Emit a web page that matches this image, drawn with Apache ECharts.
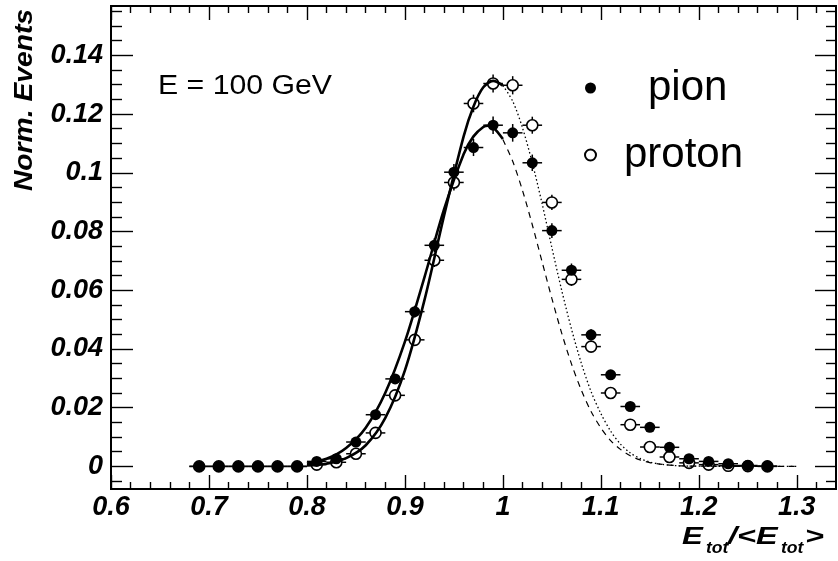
<!DOCTYPE html>
<html>
<head>
<meta charset="utf-8">
<script src="https://cdn.jsdelivr.net/npm/echarts@6/dist/echarts.min.js"></script>
<style>
html,body{margin:0;padding:0;background:#fff;}
#chart{width:838px;height:561px;}
</style>
</head>
<body>
<div id="chart"></div>
<script>
// ---- data ----
const binCenters = [0.69,0.71,0.73,0.75,0.77,0.79,0.81,0.83,0.85,0.87,0.89,0.91,0.93,0.95,0.97,0.99,1.01,1.03,1.05,1.07,1.09,1.11,1.13,1.15,1.17,1.19,1.21,1.23,1.25,1.27];
const pionValues = [0,0,0,0,0,0,0.0017,0.0026,0.0083,0.0176,0.0298,0.0527,0.0753,0.1002,0.1086,0.1162,0.1136,0.1034,0.0803,0.0668,0.0448,0.0312,0.0204,0.0133,0.0065,0.0026,0.0017,0.0009,0.0003,0.0001];
const pionErrors = [0,0,0,0,0,0,0.0004,0.0005,0.0008,0.0012,0.0015,0.0020,0.0024,0.0028,0.0029,0.0030,0.0030,0.0028,0.0025,0.0023,0.0019,0.0016,0.0013,0.0010,0.0007,0.0005,0.0004,0.0003,0.0002,0];
const protonValues = [0,0,0,0,0,0,0.0006,0.0014,0.0043,0.0114,0.0242,0.0431,0.0702,0.0967,0.1236,0.1304,0.1298,0.1162,0.0899,0.0637,0.0408,0.0250,0.0142,0.0066,0.0032,0.0012,0.0006,0.0002,0.0001,0];
const protonErrors = [0,0,0,0,0,0,0.0003,0.0004,0.0006,0.0010,0.0014,0.0018,0.0023,0.0027,0.0030,0.0031,0.0031,0.0029,0.0026,0.0022,0.0018,0.0014,0.0010,0.0007,0.0005,0.0003,0.0002,0.0001,0.0001,0];
const binHalfWidth = 0.01;

const pionFitX = [0.80,0.82,0.84,0.86,0.88,0.90,0.92,0.94,0.96,0.97,0.98,0.985,0.99,1.00];
const pionFitY = [0.0010,0.0026,0.0063,0.0132,0.0251,0.0425,0.0645,0.0876,0.1064,0.1124,0.1156,0.1160,0.1155,0.1115];
const pionTailX = [1.00,1.01,1.02,1.03,1.04,1.05,1.06,1.07,1.08,1.09,1.10,1.11,1.12,1.13,1.14,1.15,1.16,1.18,1.20,1.25,1.30];
const pionTailY = [0.1113,0.1039,0.0940,0.0823,0.0697,0.0572,0.0454,0.0349,0.0260,0.0187,0.0131,0.0088,0.0058,0.0036,0.0022,0.0013,0.0008,0.0002,0.0001,0,0];
const protonFitX = [0.80,0.82,0.84,0.86,0.88,0.90,0.92,0.94,0.96,0.97,0.98,0.99,1.00];
const protonFitY = [0.0003,0.0009,0.0028,0.0072,0.0165,0.0327,0.0567,0.0855,0.1125,0.1226,0.1291,0.1313,0.1297];
const protonTailX = [1.00,1.01,1.02,1.03,1.04,1.05,1.06,1.07,1.08,1.09,1.10,1.11,1.12,1.13,1.14,1.15,1.16,1.18,1.20,1.25,1.30];
const protonTailY = [0.1297,0.1244,0.1153,0.1034,0.0895,0.0745,0.0600,0.0468,0.0352,0.0255,0.0180,0.0120,0.0076,0.0046,0.0027,0.0015,0.0008,0.0002,0.0001,0,0];

const xMajorTicks = [0.6,0.7,0.8,0.9,1.0,1.1,1.2,1.3];
const xTickLabels = ['0.6','0.7','0.8','0.9','1','1.1','1.2','1.3'];
const xMinorTicks = [0.62,0.64,0.66,0.68,0.72,0.74,0.76,0.78,0.82,0.84,0.86,0.88,0.92,0.94,0.96,0.98,1.02,1.04,1.06,1.08,1.12,1.14,1.16,1.18,1.22,1.24,1.26,1.28,1.32];
const yMajorTicks = [0,0.02,0.04,0.06,0.08,0.10,0.12,0.14];
const yTickLabels = ['0','0.02','0.04','0.06','0.08','0.1','0.12','0.14'];
const yMinorTicks = [-0.005,0.005,0.01,0.015,0.025,0.03,0.035,0.045,0.05,0.055,0.065,0.07,0.075,0.085,0.09,0.095,0.105,0.11,0.115,0.125,0.13,0.135,0.145,0.15,0.155];
const xRange = [0.6, 1.34];
const yRange = [-0.0077, 0.1568];

// ---- chart ----
const FONT = '"Liberation Sans", Arial, Helvetica, sans-serif';
const chart = echarts.init(document.getElementById('chart'), null, {renderer:'canvas'});

function pick(ticks, labels, v){
  const i = ticks.findIndex(t => Math.abs(t - v) < 1e-9);
  return i >= 0 ? labels[i] : '';
}
function makeX(pos, values, len, withLabel){
  return {
    type:'value', min:xRange[0], max:xRange[1], position:pos,
    axisLine:{show:true, onZero:false, lineStyle:{color:'#000', width:2}},
    axisTick:{show:true, inside:true, length:len, customValues:values, lineStyle:{color:'#000', width:1.4}},
    axisLabel:{show:withLabel, customValues:values, margin:5,
      formatter:(v)=>pick(xMajorTicks, xTickLabels, v),
      fontFamily:FONT, fontSize:27, fontWeight:'bold', fontStyle:'italic', color:'#000'},
    splitLine:{show:false}, minorTick:{show:false}
  };
}
function makeY(pos, values, len, withLabel){
  return {
    type:'value', min:yRange[0], max:yRange[1], position:pos,
    axisLine:{show:true, onZero:false, lineStyle:{color:'#000', width:2}},
    axisTick:{show:true, inside:true, length:len, customValues:values, lineStyle:{color:'#000', width:1.4}},
    axisLabel:{show:withLabel, customValues:values, margin:8,
      formatter:(v)=>pick(yMajorTicks, yTickLabels, v),
      fontFamily:FONT, fontSize:27, fontWeight:'bold', fontStyle:'italic', color:'#000'},
    splitLine:{show:false}, minorTick:{show:false}
  };
}

function errData(vals, errs){
  return binCenters.map((x,i)=>[x, vals[i], errs[i]]);
}
function errRender(params, api){
  const x = api.value(0), y = api.value(1), e = api.value(2);
  const l = api.coord([x - binHalfWidth, y]);
  const r = api.coord([x + binHalfWidth, y]);
  const t = api.coord([x, y + e]);
  const b = api.coord([x, y - e]);
  const st = {stroke:'#000', lineWidth:1.5};
  return {type:'group', children:[
    {type:'line', shape:{x1:l[0], y1:l[1], x2:r[0], y2:r[1]}, style:st},
    {type:'line', shape:{x1:t[0], y1:t[1], x2:b[0], y2:b[1]}, style:st}
  ]};
}
function pairs(xs, ys){ return xs.map((x,i)=>[x, ys[i]]); }

const titleStyle = {fontFamily:FONT, fontWeight:'bold', fontStyle:'italic', fill:'#000', align:'left', verticalAlign:'middle'};

const option = {
  animation:false,
  backgroundColor:'#fff',
  grid:{left:111, right:2, top:6, bottom:72, containLabel:false},
  xAxis:[
    makeX('bottom', xMajorTicks, 14, true),
    makeX('bottom', xMinorTicks, 7, false),
    makeX('top', xMajorTicks, 14, false),
    makeX('top', xMinorTicks, 7, false)
  ],
  yAxis:[
    makeY('left', yMajorTicks, 22, true),
    makeY('left', yMinorTicks, 11, false),
    makeY('right', yMajorTicks, 21, false),
    makeY('right', yMinorTicks, 10, false)
  ],
  legend:{
    show:true, orient:'vertical', left:584, top:65, padding:0,
    itemWidth:11, itemHeight:11, itemGap:21, selectedMode:false,
    data:['pion','proton'],
    itemStyle:{opacity:1},
    formatter:(name)=>'{'+name+'|'+name+'}',
    textStyle:{fontFamily:FONT, fontSize:42, color:'#000', lineHeight:46,
      rich:{
        pion:{fontFamily:FONT, fontSize:42, lineHeight:46, color:'#000', padding:[0,0,0,47]},
        proton:{fontFamily:FONT, fontSize:42, lineHeight:46, color:'#000', padding:[0,0,0,23]}
      }}
  },
  graphic:[
    {type:'text', x:158, y:87, scaleX:1.12, z:100,
      style:{text:'E = 100 GeV', fontFamily:FONT, fontSize:27, fill:'#000', align:'left', verticalAlign:'middle'}},
    {type:'text', x:25, y:100, rotation:Math.PI/2, scaleX:1.13, z:100,
      style:{text:'Norm. Events', fontFamily:FONT, fontSize:25, fontWeight:'bold', fontStyle:'italic', fill:'#000', align:'center', verticalAlign:'middle'}},
    {type:'text', x:682, y:537, scaleX:1.3, z:100, style:Object.assign({text:'E', fontSize:24}, titleStyle)},
    {type:'text', x:706, y:549, scaleX:1.1, z:100, style:Object.assign({text:'tot', fontSize:16}, titleStyle)},
    {type:'text', x:728, y:537, scaleX:1.35, z:100, style:Object.assign({text:'/<E', fontSize:24}, titleStyle)},
    {type:'text', x:781, y:549, scaleX:1.1, z:100, style:Object.assign({text:'tot', fontSize:16}, titleStyle)},
    {type:'text', x:805, y:537, scaleX:1.35, z:100, style:Object.assign({text:'>', fontSize:24}, titleStyle)}
  ],
  series:[
    {name:'protonErr', type:'custom', xAxisIndex:0, yAxisIndex:0, renderItem:errRender, data:errData(protonValues, protonErrors), silent:true},
    {name:'pionErr', type:'custom', xAxisIndex:0, yAxisIndex:0, renderItem:errRender, data:errData(pionValues, pionErrors), silent:true},
    {name:'proton', type:'scatter', xAxisIndex:0, yAxisIndex:0, symbol:'circle', symbolSize:11,
      itemStyle:{color:'#fff', borderColor:'#000', borderWidth:1.6, opacity:1},
      data:pairs(binCenters, protonValues)},
    {name:'protonFit', type:'line', xAxisIndex:0, yAxisIndex:0, showSymbol:false, symbol:'none', smooth:0.3,
      lineStyle:{color:'#000', width:2.6}, data:pairs(protonFitX, protonFitY)},
    {name:'protonTail', type:'line', xAxisIndex:0, yAxisIndex:0, showSymbol:false, symbol:'none', smooth:0.3,
      lineStyle:{color:'#000', width:1.3, type:[1.5,2.5]}, data:pairs(protonTailX, protonTailY)},
    {name:'pionFit', type:'line', xAxisIndex:0, yAxisIndex:0, showSymbol:false, symbol:'none', smooth:0.3,
      lineStyle:{color:'#000', width:2.6}, data:pairs(pionFitX, pionFitY)},
    {name:'pionTail', type:'line', xAxisIndex:0, yAxisIndex:0, showSymbol:false, symbol:'none', smooth:0.3,
      lineStyle:{color:'#000', width:1.2, type:[6,5]}, data:pairs(pionTailX, pionTailY)},
    {name:'pion', type:'scatter', xAxisIndex:0, yAxisIndex:0, symbol:'circle', symbolSize:11,
      itemStyle:{color:'#000', borderColor:'#000', borderWidth:0, opacity:1},
      data:pairs(binCenters, pionValues)}
  ]
};
chart.setOption(option);
</script>
</body>
</html>
